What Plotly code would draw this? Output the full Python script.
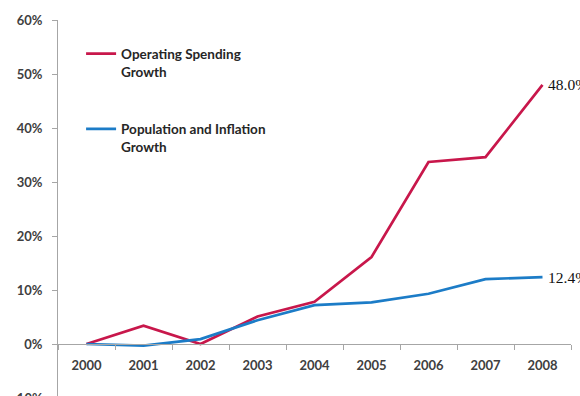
import plotly.graph_objects as go

# Annual growth since 2000 (fraction of 2000 level)
years = ["2000", "2001", "2002", "2003", "2004", "2005", "2006", "2007", "2008"]
operating_spending = [0.0, 0.034, 0.0, 0.051, 0.078, 0.161, 0.337, 0.346, 0.480]
pop_inflation = [0.0, -0.003, 0.009, 0.044, 0.072, 0.077, 0.093, 0.120, 0.124]

y_ticks = [-0.1, 0.0, 0.1, 0.2, 0.3, 0.4, 0.5, 0.6]

RED = "#C8174B"
BLUE = "#1C7CC7"
AXIS = "#A6A6A6"
LABEL = "#404040"
SANS = "Lato, 'Open Sans', sans-serif"
SERIF = "'Liberation Serif', 'DejaVu Serif', serif"

y_min, y_max = -0.0963, 0.6

fig = go.Figure()
fig.add_trace(go.Scatter(
    x=years, y=operating_spending, mode="lines",
    name="Operating Spending<br>Growth",
    line=dict(color=RED, width=2.7),
    legendgroup="a", hoverinfo="skip",
))
fig.add_trace(go.Scatter(
    x=years, y=pop_inflation, mode="lines",
    name="Population and Inflation<br>Growth",
    line=dict(color=BLUE, width=2.7),
    legendgroup="b", hoverinfo="skip",
))

# Value labels at the last point of each series (category index of last year)
last = len(years) - 1
for series in (operating_spending, pop_inflation):
    fig.add_annotation(
        x=last, y=series[-1], xref="x", yref="y",
        text=f"{series[-1] * 100:.1f}%", showarrow=False,
        xanchor="left", yanchor="middle", xshift=3,
        font=dict(family=SERIF, size=15.5, color="#111111", weight="normal"),
    )

# Lowest tick label sits below the visible plot area
fig.add_annotation(
    x=0, y=-0.0053, xref="paper", yref="paper",
    text=f"{y_ticks[0] * 100:.0f}%", showarrow=False,
    xanchor="right", yanchor="middle", xshift=-13,
    font=dict(family=SANS, size=13, color=LABEL, weight="bold"),
)

fig.update_layout(
    width=580, height=396,
    margin=dict(l=58, r=9, t=20, b=0, pad=0),
    paper_bgcolor="white", plot_bgcolor="white",
    font=dict(family=SANS, size=13, color=LABEL, weight="bold"),
    showlegend=True,
    legend=dict(
        x=0.045, y=0.951, xanchor="left", yanchor="top",
        bgcolor="rgba(0,0,0,0)", valign="top",
        tracegroupgap=37,
        font=dict(family=SANS, size=13.5, color="#262626", weight="bold"),
    ),
    xaxis=dict(
        type="category", range=[-0.5, 8.5],
        anchor="free", position=(0 - y_min) / (y_max - y_min),
        showline=True, linecolor=AXIS, linewidth=1,
        ticks="outside", ticklen=5, tickcolor=AXIS, tickson="boundaries",
        showgrid=False, zeroline=False,
        ticklabelstandoff=9,
        tickfont=dict(family=SANS, size=13, color=LABEL, weight="bold"),
        fixedrange=True,
    ),
    yaxis=dict(
        range=[y_min, y_max],
        tickvals=y_ticks, tickformat=".0%",
        showline=True, linecolor=AXIS, linewidth=1,
        ticks="outside", ticklen=5, tickcolor=AXIS,
        showgrid=False, zeroline=False,
        ticklabelstandoff=7,
        tickfont=dict(family=SANS, size=13, color=LABEL, weight="bold"),
        fixedrange=True,
    ),
)

fig.write_html("out.html", config={"displayModeBar": False})
